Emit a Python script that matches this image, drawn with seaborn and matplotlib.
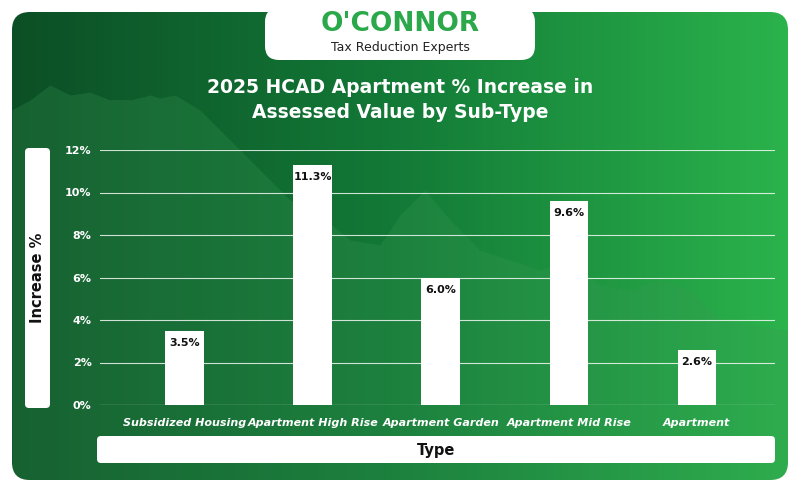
import numpy as np
import pandas as pd
import matplotlib
matplotlib.use("Agg")
import matplotlib.pyplot as plt
import seaborn as sns
from matplotlib.patches import FancyBboxPatch
from matplotlib.colors import LinearSegmentedColormap

categories = ["Subsidized Housing", "Apartment High Rise", "Apartment Garden", "Apartment Mid Rise", "Apartment"]
values = [3.5, 11.3, 6.0, 9.6, 2.6]
yticks = [0, 2, 4, 6, 8, 10, 12]

W, H = 800, 492
fig = plt.figure(figsize=(8, 4.92), dpi=100)
fig.patch.set_facecolor("white")

bg = fig.add_axes([0, 0, 1, 1])
bg.set_xlim(0, W); bg.set_ylim(H, 0); bg.axis("off")
cmap = LinearSegmentedColormap.from_list("g", ["#0c4f26", "#137a37", "#2bb34c"])
grad = np.linspace(0, 1, 256)[None, :] * np.ones((50, 1))
im = bg.imshow(grad, extent=[12, 788, 480, 12], cmap=cmap, aspect="auto", zorder=0)
clip = FancyBboxPatch((12, 12), 776, 468, boxstyle="round,pad=0,rounding_size=18",
                      transform=bg.transData, facecolor="none", edgecolor="none")
bg.add_patch(clip)
im.set_clip_path(clip)
mx = [12, 30, 50, 70, 90, 110, 130, 150, 160, 175, 200, 230, 260, 290, 320, 350, 380, 400, 425, 450, 480, 510, 540, 570, 600, 630, 660, 690, 720, 788]
my = [110, 100, 85, 95, 92, 100, 100, 95, 98, 95, 110, 140, 170, 200, 215, 240, 245, 215, 190, 220, 250, 260, 270, 260, 285, 290, 280, 290, 320, 330]
mt = bg.fill_between(mx, my, 480, color="#3a9a55", alpha=0.25, zorder=1, linewidth=0)
mt.set_clip_path(clip)

logo = FancyBboxPatch((265, 8), 270, 52, boxstyle="round,pad=0,rounding_size=14",
                      facecolor="white", edgecolor="none", zorder=2)
bg.add_patch(logo)
bg.text(400, 24, "O'CONNOR", ha="center", va="center", fontsize=19, fontweight="bold",
        color="#2aa84a", zorder=3)
bg.text(400, 47, "Tax Reduction Experts", ha="center", va="center", fontsize=9,
        color="#222222", zorder=3)

bg.text(400, 100, "2025 HCAD Apartment % Increase in\nAssessed Value by Sub-Type", ha="center",
        va="center", fontsize=13.5, fontweight="bold", color="white", linespacing=1.35, zorder=3)

bg.add_patch(FancyBboxPatch((25, 148), 25, 260, boxstyle="round,pad=0,rounding_size=4",
                            facecolor="white", edgecolor="none", zorder=2))
bg.text(38, 278, "Increase %", rotation=90, ha="center", va="center", fontsize=10.5,
        fontweight="bold", color="#111111", zorder=3)
bg.add_patch(FancyBboxPatch((97, 436), 678, 27, boxstyle="round,pad=0,rounding_size=4",
                            facecolor="white", edgecolor="none", zorder=2))
bg.text(436, 450, "Type", ha="center", va="center", fontsize=10.5, fontweight="bold",
        color="#111111", zorder=3)

ax = fig.add_axes([100 / W, 1 - 405 / H, 675 / W, 255 / H])
ax.set_facecolor("none")
df = pd.DataFrame({"Type": categories, "Increase": values})
sns.barplot(data=df, x="Type", y="Increase", color="white", width=0.3, ax=ax, zorder=3,
            saturation=1)
ax.set_ylim(0, 12)
ax.set_xlim(-0.66, 4.61)
ax.set_yticks(yticks)
ax.set_yticklabels([f"{t}%" for t in yticks], color="white", fontsize=8, fontweight="bold")
ax.set_xticks(range(len(categories)))
ax.set_xticklabels(categories, color="white", fontsize=8, fontweight="bold", style="italic")
ax.tick_params(length=0, pad=6)
ax.tick_params(axis="x", pad=9)
ax.grid(axis="y", color="white", linewidth=0.8, alpha=0.8, zorder=0)
ax.set_axisbelow(True)
for s in ax.spines.values():
    s.set_visible(False)
ax.axhline(0, color="white", linewidth=0.8)
ax.set_xlabel(""); ax.set_ylabel("")
for i, v in enumerate(values):
    ax.text(i, v - 0.35, f"{v:.1f}%", ha="center", va="top", fontsize=8, fontweight="bold",
            color="#111111", zorder=4)

fig.savefig("out.png", dpi=100)
